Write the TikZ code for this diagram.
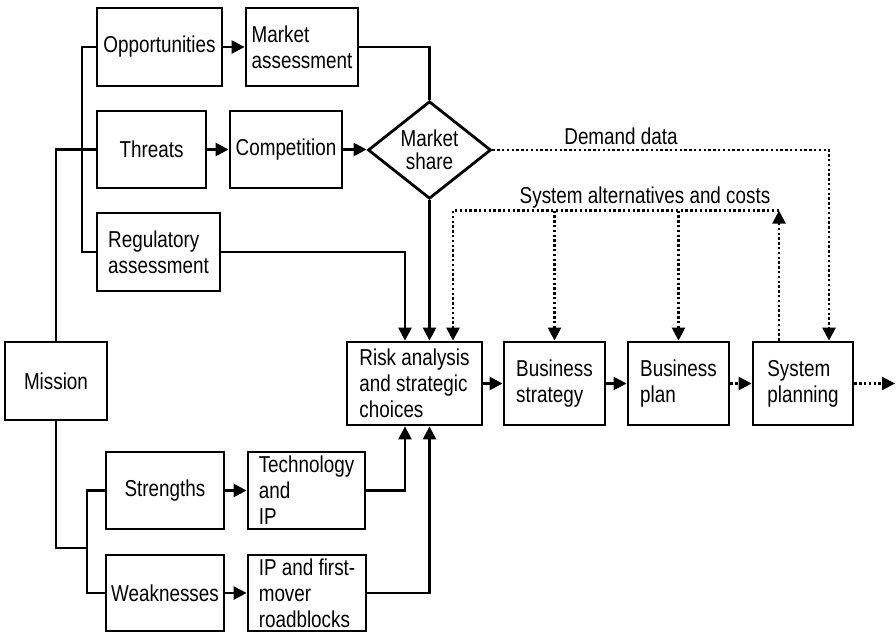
\documentclass[tikz,border=0pt]{standalone}
\usepackage{fontspec}
\setmainfont{Liberation Sans}[FakeStretch=0.82]
\usetikzlibrary{arrows.meta,shapes.geometric,positioning}

\begin{document}
\begin{tikzpicture}[x=1pt,y=-1pt,font=\fontsize{23}{26}\selectfont,
  box/.style={draw,line width=2.8pt,inner sep=0pt,align=left},
  dia/.style={draw,diamond,line width=2.8pt,inner sep=0pt,align=center,
    minimum width=123pt,minimum height=94pt},
  ln/.style={line width=2.4pt},
  arr/.style={ln,-{Triangle[length=13pt,width=13pt]}},
  dots/.style={line width=2.4pt,dash pattern=on 2.4pt off 2.4pt},
  dotarr/.style={dots,-{Triangle[length=13pt,width=13pt]}}]

  \useasboundingbox (0,0) rectangle (896,633);

  \node[box,minimum width=125pt,minimum height=78pt] (opp)   at (159.5,47)   {Opportunities};
  \node[box,minimum width=112pt,minimum height=78pt] (mkta)  at (302,47)     {Market\\assessment};
  \node[box,minimum width=109pt,minimum height=77pt] (thr)   at (151.5,149.5){Threats};
  \node[box,minimum width=112pt,minimum height=77pt] (comp)  at (286,149.5)  {Competition};
  \node[dia,font=\fontsize{23}{23}\selectfont]       (share) at (429.5,150)  {Market\\share};
  \node[box,minimum width=123pt,minimum height=78pt] (reg)   at (158.5,252)  {Regulatory\\assessment};
  \node[box,minimum width=102pt,minimum height=78pt] (mis)   at (56,381)     {Mission};
  \node[box,minimum width=135pt,minimum height=83pt] (risk)  at (414.5,383.5){Risk analysis\\and strategic\\choices};
  \node[box,minimum width=101pt,minimum height=83pt] (bstr)  at (554.5,383.5){Business\\strategy};
  \node[box,minimum width=101pt,minimum height=83pt] (bplan) at (678.5,383.5){Business\\plan};
  \node[box,minimum width=100pt,minimum height=83pt] (sysp)  at (803,383.5)  {System\\planning};
  \node[box,minimum width=118pt,minimum height=77pt] (str)   at (165,490.5)  {Strengths};
  \node[box,minimum width=117pt,minimum height=77pt] (tech)  at (306.5,490.5){Technology\\and\\IP};
  \node[box,minimum width=118pt,minimum height=76pt] (weak)  at (165,593)    {Weaknesses};
  \node[box,minimum width=118pt,minimum height=76pt] (ipfm)  at (307,593)    {IP and first-\\mover\\roadblocks};

  \node (dlbl) at (621,136) {Demand data};
  \node (slbl) at (645,198) {System alternatives and costs};

  \coordinate (nw) at (82,150);
  \coordinate (sw) at (87,548);
  \coordinate (out) at (895,383.5);

  \draw[ln] (mis.north) |- (thr.west);
  \draw[ln] (opp.west) -| (nw) |- (reg.west);
  \draw[ln] (mis.south) |- (sw);
  \draw[ln] (str.west) -| (sw) |- (weak.west);

  \draw[arr] (opp) -- (mkta);
  \draw[arr] (thr) -- (comp);
  \draw[arr] (comp.east) -- (comp.east -| share.west);
  \draw[arr] (str) -- (tech);
  \draw[arr] (weak) -- (ipfm);
  \draw[ln] (mkta.east) -| (share.north);
  \draw[arr] (share.south) -- (share.south |- risk.north);
  \draw[arr] (reg.east) -| ([xshift=-9.5pt]risk.north);
  \draw[arr] (tech.east) -| ([xshift=-9.5pt]risk.south);
  \draw[arr] (ipfm.east) -| (share.south |- risk.south);

  \draw[arr] (risk) -- (bstr);
  \draw[arr] (bstr) -- (bplan);
  \draw[dotarr] (bplan.east) -- (bplan.east -| sysp.west);
  \draw[dotarr] (sysp.east) -- (out);

  \draw[dotarr] (share.east) -| ([xshift=26pt]sysp.north);
  \draw[dotarr] ([xshift=-24pt]sysp.north) -- ++(0,-130) coordinate (sa);
  \draw[dotarr] (sa) -| ([xshift=38.5pt]risk.north);
  \draw[dotarr] (sa -| bstr.north) -- (bstr.north);
  \draw[dotarr] (sa -| bplan.north) -- (bplan.north);
\end{tikzpicture}
\end{document}
